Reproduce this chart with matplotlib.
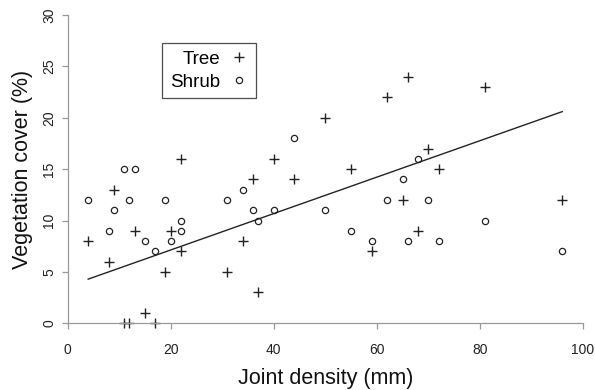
import matplotlib
matplotlib.use("Agg")
import matplotlib.pyplot as plt
import numpy as np

plt.rcParams['font.family'] = ['Liberation Sans', 'DejaVu Sans']

tree_x = [4, 8, 9, 11, 12, 13, 15, 17, 19, 20, 22, 22, 31, 34, 36, 37, 40, 44, 50, 55, 59, 62, 65, 66, 68, 70, 72, 81, 96]
tree_y = [8, 6, 13, 0, 0, 9, 1, 0, 5, 9, 7, 16, 5, 8, 14, 3, 16, 14, 20, 15, 7, 22, 12, 24, 9, 17, 15, 23, 12]

shrub_x = [4, 8, 9, 11, 13, 12, 15, 17, 19, 20, 22, 22, 31, 34, 36, 37, 40, 44, 50, 55, 59, 62, 65, 66, 68, 70, 72, 81, 96]
shrub_y = [12, 9, 11, 15, 15, 12, 8, 7, 12, 8, 9, 10, 12, 13, 11, 10, 11, 18, 11, 9, 8, 12, 14, 8, 16, 12, 8, 10, 7]

trend_x = [4, 96]
trend_y = [4.3, 20.6]

x_ticks = [0, 20, 40, 60, 80, 100]
y_ticks = [0, 5, 10, 15, 20, 25, 30]

fig = plt.figure(figsize=(5.95, 3.9), dpi=100)
ax = fig.add_axes([0.1136, 0.171, 0.866, 0.7905])

ax.plot(tree_x, tree_y, linestyle='none', marker='+', markersize=7.5, markeredgewidth=1.0,
        color='#222222', label='Tree', clip_on=False)
ax.plot(shrub_x, shrub_y, linestyle='none', marker='o', markersize=4.5, markeredgewidth=0.9,
        markerfacecolor='none', markeredgecolor='#222222', label='Shrub', clip_on=False)
ax.plot(trend_x, trend_y, color='#222222', linewidth=1.0)

ax.set_xlim(0, 100)
ax.set_ylim(0, 30)
ax.set_xticks(x_ticks)
ax.set_yticks(y_ticks)
ax.set_yticklabels([str(v) for v in y_ticks], rotation=90, va='center')

for s in ['top', 'right']:
    ax.spines[s].set_visible(False)
for s in ['left', 'bottom']:
    ax.spines[s].set_color('#999999')
    ax.spines[s].set_linewidth(0.9)
ax.tick_params(axis='both', direction='out', length=4, width=0.9, color='#999999',
               labelsize=10, labelcolor='#222222')
ax.tick_params(axis='x', pad=10)
ax.tick_params(axis='y', pad=4)

ax.set_xlabel('Joint density (mm)', fontsize=15.5, color='#111111', labelpad=8)
ax.set_ylabel('Vegetation cover (%)', fontsize=15.5, color='#111111', labelpad=7)

leg = ax.legend(loc='upper left', bbox_to_anchor=(0.184, 0.908), markerfirst=False,
                frameon=True, fancybox=False, fontsize=13.5, handlelength=1.0,
                handletextpad=0.5, borderpad=0.4, labelspacing=0.3, borderaxespad=0)
leg.get_frame().set_edgecolor('#222222')
leg.get_frame().set_linewidth(0.9)

fig.savefig('out.png', dpi=100)
